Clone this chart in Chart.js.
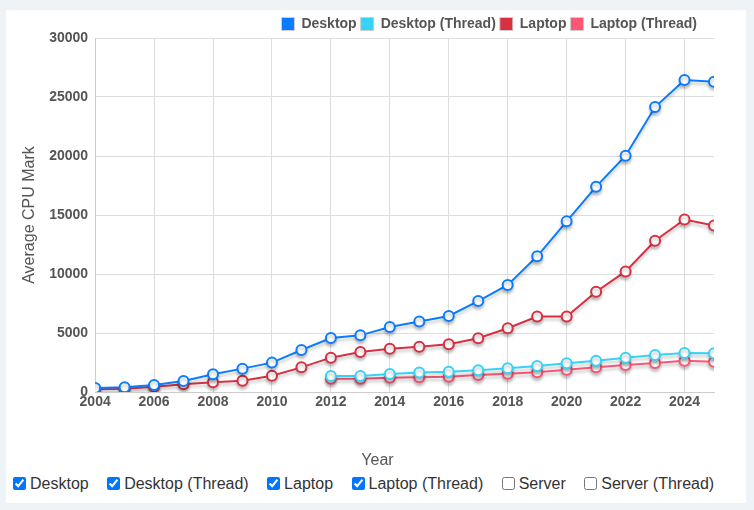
<!DOCTYPE html>
<html>
<head>
<meta charset="utf-8">
<script src="https://cdn.jsdelivr.net/npm/chart.js@4.4.1/dist/chart.umd.min.js"></script>
<style>
  body { margin: 0; background: #eef3f7; font-family: "Liberation Sans", Arial, sans-serif; }
  .card { position: absolute; left: 6px; top: 10px; width: 740px; height: 493px; background: #fff; }
  .chart-box { position: absolute; left: 0; top: 0; width: 740px; height: 460px; }
  .toggles { position: absolute; left: 5px; top: 465px; font-size: 16px; color: #333; white-space: nowrap; }
  .toggles label { margin-right: 12px; }
  .toggles input { margin: 0 4px 0 2px; vertical-align: -1px; }
</style>
</head>
<body>
<div class="card">
  <div class="chart-box"><canvas id="cpuChart"></canvas></div>
  <div class="toggles">
    <label><input type="checkbox" checked>Desktop</label>
    <label><input type="checkbox" checked>Desktop (Thread)</label>
    <label><input type="checkbox" checked>Laptop</label>
    <label><input type="checkbox" checked>Laptop (Thread)</label>
    <label><input type="checkbox">Server</label>
    <label><input type="checkbox">Server (Thread)</label>
  </div>
</div>
<script>
// Années et valeurs
const years = [2004, 2005, 2006, 2007, 2008, 2009, 2010, 2011, 2012, 2013, 2014, 2015,
               2016, 2017, 2018, 2019, 2020, 2021, 2022, 2023, 2024, 2025];
const threadYears = years.slice(8); // à partir de 2012

const desktop = [340, 400, 590, 930, 1500, 1980, 2490, 3560, 4580, 4800, 5510, 5980,
                 6440, 7710, 9070, 11500, 14460, 17400, 20030, 24150, 26440, 26300];
const laptop = [230, 280, 450, 650, 820, 960, 1380, 2090, 2910, 3390, 3670, 3830,
                4040, 4550, 5400, 6390, 6390, 8500, 10220, 12820, 14620, 14110];
const desktopThread = [1350, 1350, 1530, 1660, 1720, 1840, 2010, 2200, 2430, 2650, 2910, 3140, 3310, 3280];
const laptopThread = [1130, 1130, 1210, 1240, 1300, 1440, 1550, 1670, 1890, 2090, 2290, 2460, 2650, 2570];

const xTicks = [2004, 2006, 2008, 2010, 2012, 2014, 2016, 2018, 2020, 2022, 2024];

function toPoints(xs, ys) {
    return xs.map((x, i) => ({ x: x, y: ys[i] }));
}

function makeSeries(label, color, xs, ys) {
    return {
        label: label,
        data: toPoints(xs, ys),
        borderColor: color,
        backgroundColor: color,
        borderWidth: 2,
        pointRadius: 5,
        pointHoverRadius: 6,
        pointBorderWidth: 2,
        pointBackgroundColor: '#fff',
        pointBorderColor: color,
        tension: 0
    };
}

// petite ombre sous les courbes + petits décalages de légende / titre
const shadowPlugin = {
    id: 'lineShadow',
    afterLayout(chart) {
        chart.legend.left -= 13;
        chart.legend.right -= 13;
        chart.legend.top += 3;
        chart.legend.bottom += 3;
        if (chart.titleBlock) {
            chart.titleBlock.left += 13;
            chart.titleBlock.right += 13;
        }
    },
    beforeDatasetsDraw(chart) {
        const ctx = chart.ctx;
        ctx.save();
        ctx.shadowColor = 'rgba(0,0,0,0.22)';
        ctx.shadowBlur = 3;
        ctx.shadowOffsetY = 3;
    },
    afterDatasetsDraw(chart) {
        chart.ctx.restore();
    }
};

const tickFont = { family: '"Liberation Sans", Arial, sans-serif', size: 14, weight: 'bold' };
const titleFont = { family: '"Liberation Sans", Arial, sans-serif', size: 16 };

new Chart(document.getElementById('cpuChart'), {
    type: 'line',
    data: {
        datasets: [
            makeSeries('Desktop', '#0a7cff', years, desktop),
            makeSeries('Desktop (Thread)', '#36d3f7', threadYears, desktopThread),
            makeSeries('Laptop', '#d92f42', years, laptop),
            makeSeries('Laptop (Thread)', '#fa5675', threadYears, laptopThread)
        ]
    },
    options: {
        responsive: true,
        maintainAspectRatio: false,
        animation: false,
        layout: { padding: { top: 0, right: 32, left: 9, bottom: 0 } },
        plugins: {
            legend: {
                position: 'top',
                align: 'end',
                labels: {
                    boxWidth: 13,
                    boxHeight: 13,
                    padding: 4,
                    color: '#555',
                    font: tickFont,
                    generateLabels(chart) {
                        return chart.data.datasets.map((ds, i) => ({
                            text: ds.label,
                            fillStyle: ds.borderColor,
                            strokeStyle: '#ccc',
                            lineWidth: 1,
                            fontColor: '#555',
                            datasetIndex: i,
                            hidden: !chart.isDatasetVisible(i)
                        }));
                    }
                }
            },
            title: {
                display: true,
                position: 'bottom',
                text: 'Year',
                color: '#555',
                font: { family: '"Liberation Sans", Arial, sans-serif', size: 16, weight: 'normal' },
                padding: { top: 38, bottom: 0 }
            },
            tooltip: { enabled: false }
        },
        scales: {
            x: {
                type: 'linear',
                min: 2004,
                max: 2025,
                afterBuildTicks(axis) {
                    axis.ticks = xTicks.map(v => ({ value: v }));
                },
                ticks: {
                    color: '#555',
                    font: tickFont,
                    maxRotation: 0,
                    padding: 2,
                    callback: v => String(v)
                },
                grid: { color: '#ddd', drawTicks: false },
                border: { color: '#ccc' }
            },
            y: {
                min: 0,
                max: 30000,
                ticks: {
                    stepSize: 5000,
                    color: '#555',
                    font: tickFont,
                    padding: 7,
                    callback: v => String(v)
                },
                grid: { color: '#ddd', drawTicks: false },
                border: { color: '#ccc' },
                title: { display: true, text: 'Average CPU Mark', color: '#555', font: titleFont, padding: { top: 5, bottom: 3 } }
            }
        }
    },
    plugins: [shadowPlugin]
});
</script>
</body>
</html>
